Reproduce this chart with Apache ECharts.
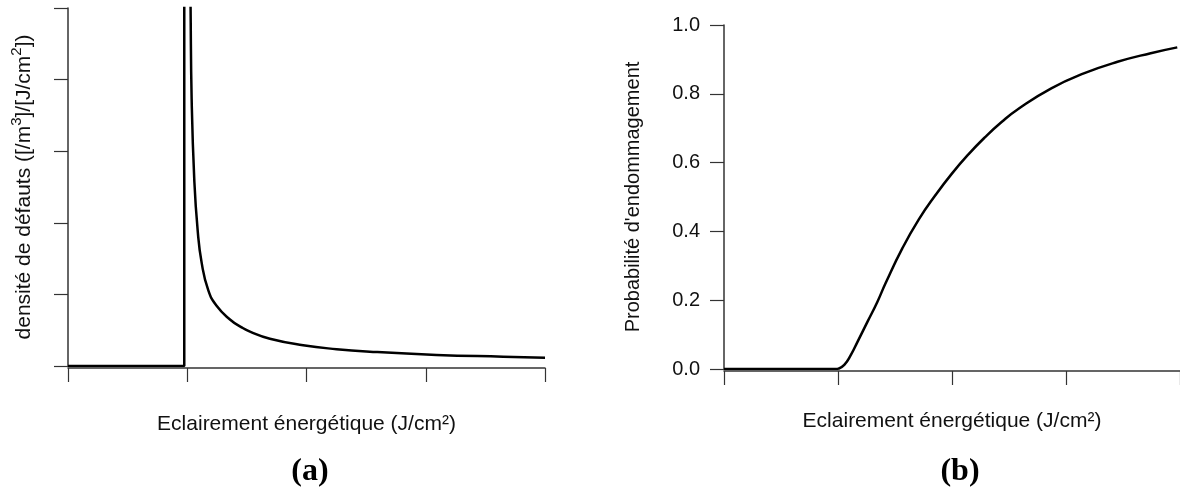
<!DOCTYPE html>
<html>
<head>
<meta charset="utf-8">
<script src="https://cdn.jsdelivr.net/npm/echarts@6/dist/echarts.min.js"></script>
<style>
html, body { margin: 0; padding: 0; background: #fff; }
#chart { width: 1180px; height: 492px; }
</style>
</head>
<body>
<div id="chart"></div>
<script>
// (a) densite de defauts : palier a zero puis saut vertical au seuil
const densityStep = [[0, 0], [0.975, 0], [0.975, 6]]
// (a) decroissance apres le seuil
const densityDecay = [
  [1.022, 6.0], [1.028, 5.0], [1.037, 3.72], [1.059, 2.60], [1.087, 1.90],
  [1.121, 1.44], [1.176, 1.06], [1.246, 0.84], [1.358, 0.65], [1.456, 0.54],
  [1.526, 0.48], [1.693, 0.38], [1.972, 0.29], [2.252, 0.235], [2.531, 0.20],
  [3.090, 0.155], [3.649, 0.13], [4.0, 0.116]
]
// (b) probabilite d'endommagement
const probFlat = [[0, 0], [1.0, 0]]
const probCurve = [
  [1.0, 0], [1.055, 0.012], [1.113, 0.041], [1.171, 0.079], [1.258, 0.137],
  [1.345, 0.195], [1.418, 0.250], [1.563, 0.350], [1.709, 0.435], [1.854, 0.505],
  [1.999, 0.568], [2.144, 0.624], [2.290, 0.674], [2.435, 0.718], [2.581, 0.756],
  [2.871, 0.816], [3.162, 0.860], [3.452, 0.893], [3.743, 0.918], [3.976, 0.935]
]
const xTitle = 'Eclairement énergétique (J/cm²)'
const panelLabels = ['(a)', '(b)']

const font = 'Liberation Sans, Arial, sans-serif'
const axisColor = '#333'

const myChart = echarts.init(document.getElementById('chart'))

const xAxisCommon = {
  type: 'value',
  min: 0,
  max: 4,
  interval: 1,
  offset: 2,
  name: xTitle,
  nameLocation: 'middle',
  nameTextStyle: { fontFamily: font, fontSize: 21, color: '#111' },
  axisLine: { onZero: false, lineStyle: { color: axisColor, width: 1.5 } },
  axisTick: { show: true, length: 14, lineStyle: { color: axisColor, width: 1.2 } },
  axisLabel: { show: false },
  splitLine: { show: false }
}

const lineCommon = {
  type: 'line',
  showSymbol: false,
  symbol: 'none',
  clip: true,
  lineStyle: { color: '#000', width: 2.5 },
  animation: false
}

const panelStyle = { fontFamily: 'Liberation Serif, serif', fontWeight: 'bold', fontSize: 32, color: '#000' }

const option = {
  animation: false,
  title: [
    { text: panelLabels[0], left: 305, top: 451, textAlign: 'center', textStyle: panelStyle },
    { text: panelLabels[1], left: 955, top: 451, textAlign: 'center', textStyle: panelStyle }
  ],
  grid: [
    { left: 68, right: 635, top: 8, bottom: 126 },
    { left: 724, right: -3, top: 25, bottom: 123 }
  ],
  xAxis: [
    Object.assign({}, xAxisCommon, { gridIndex: 0, nameGap: 46 }),
    Object.assign({}, xAxisCommon, { gridIndex: 1, nameGap: 40 })
  ],
  yAxis: [
    {
      gridIndex: 0,
      type: 'value',
      min: 0,
      max: 5,
      interval: 1,
      offset: 3,
      name: '{t|densité de défauts ([/m}{sup|3}{t|]/[J/cm}{sup|2}{t|])}',
      nameLocation: 'middle',
      nameGap: 30,
      nameTextStyle: {
        fontFamily: font, fontSize: 21, color: '#111',
        rich: {
          t: { fontFamily: font, fontSize: 21, color: '#111', verticalAlign: 'bottom' },
          sup: { fontFamily: font, fontSize: 15, color: '#111', verticalAlign: 'bottom', padding: [0, 0, 11, 0] }
        }
      },
      axisLine: { show: true, lineStyle: { color: axisColor, width: 1.5 } },
      axisTick: { show: true, length: 14, lineStyle: { color: axisColor, width: 1.2 } },
      axisLabel: { show: false },
      splitLine: { show: false }
    },
    {
      gridIndex: 1,
      type: 'value',
      min: 0,
      max: 1,
      interval: 0.2,
      offset: 3,
      name: "Probabilité d'endommagement",
      nameLocation: 'middle',
      nameGap: 78,
      nameTextStyle: { fontFamily: font, fontSize: 20, color: '#111' },
      axisLine: { show: true, lineStyle: { color: axisColor, width: 1.5 } },
      axisTick: { show: true, length: 14, lineStyle: { color: axisColor, width: 1.2 } },
      axisLabel: {
        fontFamily: font, fontSize: 20, color: '#111', margin: 21,
        formatter: v => v.toFixed(1)
      },
      splitLine: { show: false }
    }
  ],
  series: [
    Object.assign({}, lineCommon, { xAxisIndex: 0, yAxisIndex: 0, data: densityStep }),
    Object.assign({}, lineCommon, { xAxisIndex: 0, yAxisIndex: 0, data: densityDecay, smooth: 0.5 }),
    Object.assign({}, lineCommon, { xAxisIndex: 1, yAxisIndex: 1, data: probFlat }),
    Object.assign({}, lineCommon, { xAxisIndex: 1, yAxisIndex: 1, data: probCurve, smooth: 0.5 })
  ]
}

myChart.setOption(option)
</script>
</body>
</html>
